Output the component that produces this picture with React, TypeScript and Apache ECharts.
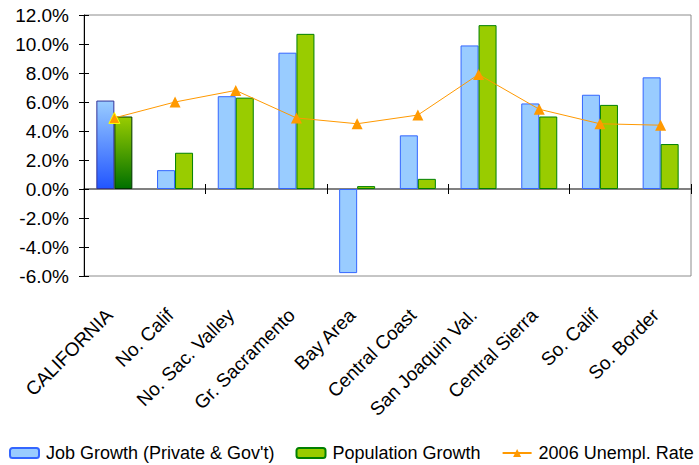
import React, { useEffect, useRef } from "react";
import * as echarts from "echarts";

const categories = [
  "CALIFORNIA",
  "No. Calif",
  "No. Sac. Valley",
  "Gr. Sacramento",
  "Bay Area",
  "Central Coast",
  "San Joaquin Val.",
  "Central Sierra",
  "So. Calif",
  "So. Border",
];
const jobGrowth = [6.1, 1.3, 6.4, 9.4, -5.8, 3.7, 9.9, 5.9, 6.5, 7.7];
const popGrowth = [5.0, 2.5, 6.3, 10.7, 0.2, 0.7, 11.3, 5.0, 5.8, 3.1];
const unemplRate = [4.9, 6.0, 6.8, 4.9, 4.5, 5.1, 7.9, 5.5, 4.5, 4.4];
const seriesNames = ["Job Growth (Private & Gov't)", "Population Growth", "2006 Unempl. Rate"];

const FONT = "'Liberation Sans', Arial, sans-serif";

export default function App() {
  const ref = useRef<HTMLDivElement>(null);
  useEffect(() => {
    if (!ref.current) return;
    const chart = echarts.init(ref.current, undefined, { renderer: "svg" });
    const lin = (a: string, b: string) =>
      new echarts.graphic.LinearGradient(0, 0, 0, 1, [
        { offset: 0, color: a },
        { offset: 1, color: b },
      ]);
    const yBase = { type: "value", min: -6, max: 12, interval: 2 };
    chart.setOption({
      animation: false,
      textStyle: { fontFamily: FONT },
      grid: {
        left: 84,
        right: 8,
        top: 15,
        bottom: 189,
        show: true,
        borderColor: "#8c8c8c",
        borderWidth: 1,
      },
      legend: {
        left: 9,
        top: 444,
        padding: 0,
        itemWidth: 29,
        itemHeight: 10,
        itemGap: 21,
        textStyle: { fontSize: 18, color: "#000", fontFamily: FONT, padding: [0, 0, 0, 2] },
        data: seriesNames,
      },
      xAxis: [
        {
          type: "category",
          data: categories,
          position: "bottom",
          axisLine: { show: false, onZero: false },
          axisTick: { show: false },
          axisLabel: {
            interval: 0,
            rotate: 45,
            margin: 31,
            padding: [0, 7, 0, 0],
            fontSize: 19,
            color: "#000",
            fontFamily: FONT,
          },
        },
        {
          type: "category",
          data: categories,
          position: "bottom",
          axisLine: { show: true, onZero: true, lineStyle: { color: "#808080", width: 2 } },
          axisTick: { show: true, length: 5, lineStyle: { color: "#000" } },
          axisLabel: { show: false },
        },
        {
          type: "category",
          data: categories,
          position: "top",
          axisLine: { show: false, onZero: true },
          axisTick: { show: true, length: 5, lineStyle: { color: "#000" } },
          axisLabel: { show: false },
        },
      ],
      yAxis: [
        {
          ...yBase,
          position: "left",
          axisLine: { show: true, lineStyle: { color: "#000" } },
          axisTick: { show: true, length: 5, lineStyle: { color: "#000" } },
          splitLine: { show: false },
          axisLabel: {
            margin: 15,
            fontSize: 19,
            color: "#000",
            fontFamily: FONT,
            formatter: (v: number) => v.toFixed(1) + "%",
          },
        },
        {
          ...yBase,
          position: "left",
          axisLine: { show: false },
          axisTick: { show: true, inside: true, length: 5, lineStyle: { color: "#000" } },
          splitLine: { show: false },
          axisLabel: { show: false },
        },
      ],
      series: [
        {
          name: seriesNames[0],
          type: "bar",
          xAxisIndex: 0,
          yAxisIndex: 0,
          barWidth: 18,
          barGap: "0%",
          itemStyle: { color: "#99CCFF", borderColor: "#3366FF", borderWidth: 1 },
          data: jobGrowth.map((v, i) =>
            i === 0
              ? { value: v, itemStyle: { color: lin("#99CCFF", "#2255FF"), borderColor: "#333399" } }
              : v
          ),
        },
        {
          name: seriesNames[1],
          type: "bar",
          xAxisIndex: 0,
          yAxisIndex: 0,
          barWidth: 18,
          barGap: "0%",
          itemStyle: { color: "#99CC00", borderColor: "#008000", borderWidth: 1 },
          data: popGrowth.map((v, i) =>
            i === 0
              ? { value: v, itemStyle: { color: lin("#99CC00", "#007000"), borderColor: "#003300" } }
              : v
          ),
        },
        {
          name: seriesNames[2],
          type: "line",
          xAxisIndex: 0,
          yAxisIndex: 0,
          symbol: "triangle",
          symbolSize: 11,
          lineStyle: { color: "#FF9900", width: 1 },
          itemStyle: { color: "#FF9900" },
          data: unemplRate.map((v, i) =>
            i === 0
              ? { value: v, itemStyle: { color: "#FF9900", borderColor: "#FFFF00", borderWidth: 1 } }
              : v
          ),
        },
      ],
    });
    return () => chart.dispose();
  }, []);
  return (
    <div
      ref={ref}
      style={{ position: "absolute", left: 0, top: 0, width: 699, height: 465, background: "#fff" }}
    />
  );
}
